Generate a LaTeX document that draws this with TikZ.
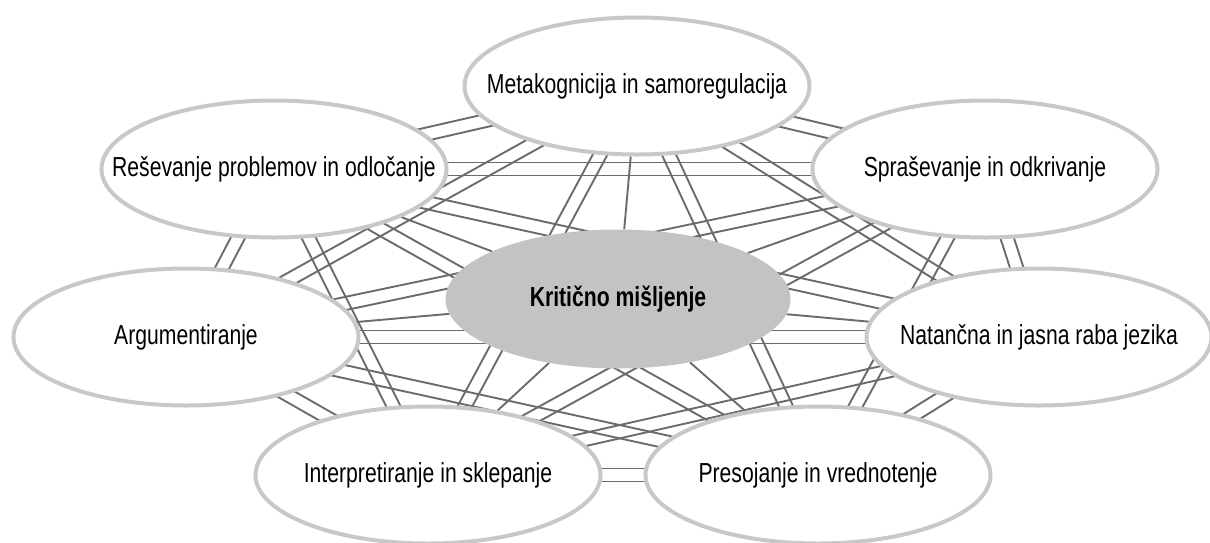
\documentclass[tikz,border=0pt]{standalone}
\usepackage{fontspec}
\setmainfont[FakeStretch=0.77]{Liberation Sans}
\usetikzlibrary{shapes.geometric,calc}
\pgfdeclarelayer{background}
\pgfsetlayers{background,main}
\definecolor{ringgray}{HTML}{C8C8C8}
\definecolor{hubgray}{HTML}{C3C3C3}
\definecolor{linkgray}{HTML}{6B6B6B}
\newcommand\zerobox[1]{\makebox[0pt]{\raisebox{-2pt}{#1}}}
\begin{document}
\begin{tikzpicture}[x=1pt,y=-1pt,
  outer/.style={ellipse, draw=ringgray, line width=4pt, fill=white,
    minimum width=345pt, minimum height=137pt, inner sep=0pt,
    font=\fontsize{27.5}{30}\selectfont},
  hub/.style={ellipse, fill=hubgray, minimum width=345pt, minimum height=139pt,
    inner sep=0pt, font=\fontsize{27.5}{30}\selectfont\bfseries},
  link/.style={draw=linkgray, line width=1.9pt}]
\useasboundingbox (0,0) rectangle (1210,542);
\node[outer] (m) at (637,86) {\zerobox{Metakognicija in samoregulacija}};
\node[outer] (s) at (985,169) {\zerobox{Spraševanje in odkrivanje}};
\node[outer] (n) at (1039,337) {\zerobox{Natančna in jasna raba jezika}};
\node[outer] (p) at (818,475) {\zerobox{Presojanje in vrednotenje}};
\node[outer] (i) at (428,475) {\zerobox{Interpretiranje in sklepanje}};
\node[outer] (a) at (186,337) {\zerobox{Argumentiranje}};
\node[outer] (r) at (274,169) {\zerobox{Reševanje problemov in odločanje}};
\node[hub] (c) at (618,299) {\zerobox{Kritično mišljenje}};
\begin{pgfonlayer}{background}
\foreach \u/\v in {m/s,m/n,m/p,m/i,m/a,m/r,s/n,s/p,s/i,s/a,s/r,n/p,n/i,n/a,n/r,p/i,p/a,p/r,i/a,i/r,a/r}{
  \draw[link] ($(\u)!6.5pt!90:(\v)$) -- ($(\v)!6.5pt!-90:(\u)$);
  \draw[link] ($(\u)!6.5pt!-90:(\v)$) -- ($(\v)!6.5pt!90:(\u)$);
}
\foreach \v in {m,s,n,p,i,a,r}{
  \draw[link] (c) -- (\v);
}
\end{pgfonlayer}
\end{tikzpicture}
\end{document}
